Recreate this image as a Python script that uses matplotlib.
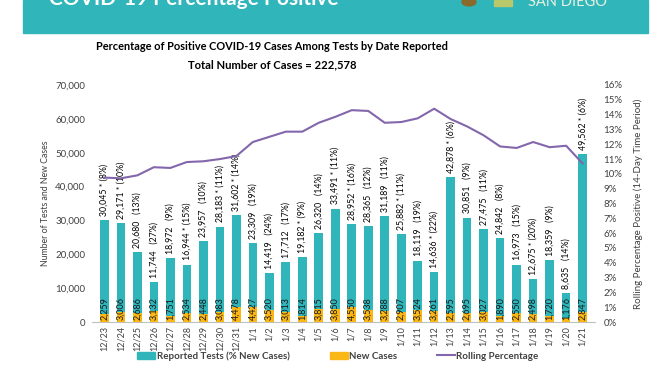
import numpy as np
import matplotlib
matplotlib.use("Agg")
import matplotlib.pyplot as plt
from matplotlib.patches import Rectangle, Patch, Circle
from matplotlib.lines import Line2D

plt.rcParams['font.family'] = ['Lato', 'DejaVu Sans']

# data
dates = ["12/23", "12/24", "12/25", "12/26", "12/27", "12/28", "12/29", "12/30", "12/31",
         "1/1", "1/2", "1/3", "1/4", "1/5", "1/6", "1/7", "1/8", "1/9", "1/10", "1/11",
         "1/12", "1/13", "1/14", "1/15", "1/16", "1/17", "1/18", "1/19", "1/20", "1/21"]
tests = [30045, 29171, 20680, 11744, 18972, 16944, 23957, 28183, 31602, 23309,
         14419, 17712, 19182, 26320, 33491, 28952, 28365, 31189, 25882, 18119,
         14636, 42878, 30851, 27475, 24842, 16973, 12675, 18359, 8635, 49562]
pct_new = [8, 10, 13, 27, 9, 15, 10, 11, 14, 19, 24, 17, 9, 14, 11, 16, 12, 11, 11, 19,
           22, 6, 9, 11, 8, 15, 20, 9, 14, 6]
starred = [1, 1, 0, 0, 0, 1, 0, 1, 1, 0, 0, 0, 1, 0, 1, 1, 0, 0, 1, 0,
           1, 1, 0, 0, 0, 0, 1, 0, 0, 1]
new_cases = [2259, 3006, 2686, 3132, 1751, 2534, 2448, 3083, 4478, 4427,
             3520, 3013, 1814, 3815, 3850, 4550, 3538, 3288, 2907, 3524,
             3261, 2595, 2695, 3027, 1890, 2550, 2498, 1720, 1176, 2847]
rolling = [9.75, 9.7, 9.9, 10.45, 10.4, 10.8, 10.85, 11.0, 11.2, 12.15,
           12.5, 12.85, 12.85, 13.45, 13.85, 14.3, 14.25, 13.45, 13.5, 13.75,
           14.4, 13.7, 13.2, 12.6, 11.85, 11.75, 12.15, 11.8, 11.9, 10.7]

TEAL = '#2fb5ba'
GOLD = '#fbb715'
PURPLE = '#8366ab'
GREY = '#404040'

fig = plt.figure(figsize=(6.72, 3.72), dpi=100)
W, H = 672, 372

# header banner (the screenshot is cropped through its title)
fig.patches.append(Rectangle((23/W, 1-33/H), (648-23)/W, 33/H, transform=fig.transFigure,
                             color=TEAL, zorder=0))
fig.text(49/W, 1-5/H, "COVID-19 Percentage Positive", color='white', fontsize=15,
         fontweight='bold', va='baseline', ha='left')
fig.patches.append(Circle((469/W, 1-2/H), 7/W, transform=fig.transFigure,
                          color='#8a6a2a', zorder=2))
fig.patches.append(Rectangle((494/W, 1-6/H), 18/W, 6/H, transform=fig.transFigure,
                             color='#b8c86a', zorder=2))
fig.text(528/W, 1-6/H, "SAN DIEGO", color='#e8f0e0', fontsize=10.5, va='baseline', ha='left')

# titles
fig.text(272/W, 1-46/H, "Percentage of Positive COVID-19 Cases Among Tests by Date Reported",
         ha='center', va='center', fontsize=7.9, fontweight='bold', color='black')
fig.text(272/W, 1-65/H, "Total Number of Cases = 222,578",
         ha='center', va='center', fontsize=8.1, fontweight='bold', color='black')

ax = fig.add_axes([92/W, 1-322/H, (595-92)/W, (322-85)/H])
x = np.arange(len(dates))
ax.bar(x, tests, width=0.52, color=TEAL, zorder=2)
ax.bar(x, new_cases, width=0.52, color=GOLD, zorder=3)
ax.set_xlim(-0.75, len(dates) - 0.25)
ax.set_ylim(0, 70000)
ax.set_yticks(range(0, 70001, 10000))
ax.set_yticklabels([f"{v:,}" for v in range(0, 70001, 10000)])
ax.set_xticks(x)
ax.set_xticklabels(dates, rotation=90)
ax.tick_params(axis='y', length=0, labelsize=7, colors=GREY, pad=5)
ax.tick_params(axis='x', length=0, labelsize=6.5, colors=GREY, pad=3)
for s in ['top', 'right', 'left']:
    ax.spines[s].set_visible(False)
ax.spines['bottom'].set_color('#bfbfbf')
ax.set_ylabel("Number of Tests and New Cases", fontsize=6.3, color=GREY, labelpad=4)

for i in range(len(dates)):
    star = " * " if starred[i] else "   "
    ax.annotate(f"{tests[i]:,}{star}({pct_new[i]}%)", (x[i], tests[i]),
                xytext=(0, 3), textcoords='offset points', rotation=90,
                ha='center', va='bottom', fontsize=6.3, color='black', zorder=5)
    ax.annotate(f"{new_cases[i]:,}", (x[i], 0), xytext=(0, 1.5),
                textcoords='offset points', rotation=90, ha='center', va='bottom',
                fontsize=6.5, color='#1a1a1a', zorder=5)

ax2 = ax.twinx()
ax2.plot(x, rolling, color=PURPLE, lw=1.5, zorder=4)
ax2.set_ylim(0, 16)
ax2.set_yticks(range(0, 17))
ax2.set_yticklabels([f"{v}%" for v in range(0, 17)])
ax2.tick_params(axis='y', length=0, labelsize=7, colors=GREY, pad=6)
for s in ['top', 'right', 'left', 'bottom']:
    ax2.spines[s].set_visible(False)
ax2.set_ylabel("Rolling Percentage Positive (14-Day Time Period)", fontsize=7,
               color=GREY, labelpad=8)

handles = [Patch(color=TEAL), Patch(color=GOLD), Line2D([0], [0], color=PURPLE, lw=1.5)]
labels = ["Reported Tests (% New Cases)", "New Cases", "Rolling Percentage"]
leg = fig.legend(handles, labels, loc='center', bbox_to_anchor=(338/W, 1-356/H), ncol=3,
                 frameon=False, fontsize=7, handlelength=1.85, handleheight=0.7,
                 columnspacing=4.1, handletextpad=0.15)
for t in leg.get_texts():
    t.set_fontweight('bold')
    t.set_color(GREY)

fig.savefig("out.png", dpi=100)
